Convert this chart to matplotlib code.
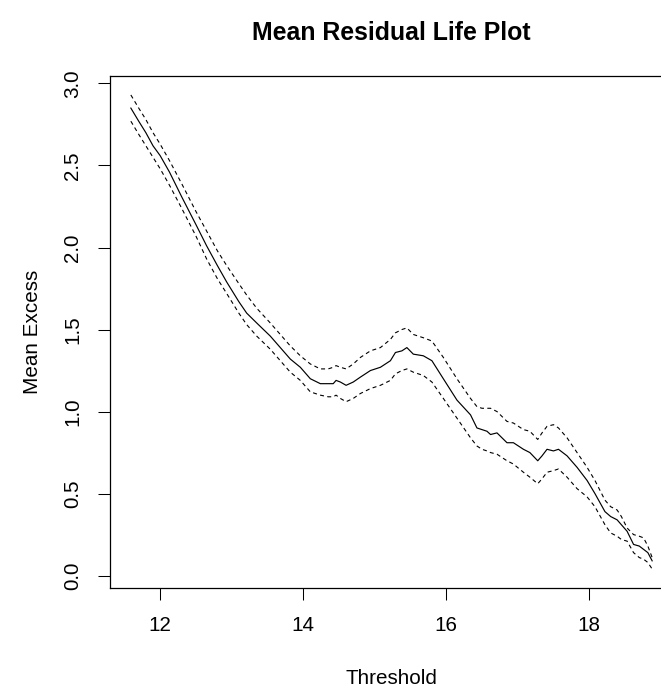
import numpy as np
import matplotlib
matplotlib.use("Agg")
import matplotlib.pyplot as plt

# Threshold grid and mean excess with its confidence band
threshold = [11.59, 11.70, 11.80, 11.90, 12.00, 12.13, 12.30, 12.50, 12.65, 12.80,
             12.93, 13.10, 13.21, 13.35, 13.54, 13.70, 13.82, 13.96, 14.10, 14.24,
             14.35, 14.42, 14.46, 14.52, 14.60, 14.70, 14.80, 14.94, 15.08, 15.22,
             15.29, 15.38, 15.45, 15.54, 15.68, 15.80, 15.96, 16.15, 16.34, 16.43,
             16.50, 16.57, 16.62, 16.71, 16.85, 16.94, 17.08, 17.17, 17.28, 17.34,
             17.41, 17.50, 17.57, 17.69, 17.83, 17.97, 18.08, 18.22, 18.30, 18.39,
             18.45, 18.53, 18.62, 18.70, 18.76, 18.82, 18.88]
mean_excess = [2.85, 2.77, 2.70, 2.62, 2.56, 2.46, 2.31, 2.14, 2.01, 1.89,
               1.79, 1.67, 1.60, 1.54, 1.46, 1.38, 1.32, 1.27, 1.20, 1.17,
               1.17, 1.17, 1.19, 1.18, 1.16, 1.18, 1.21, 1.25, 1.27, 1.31,
               1.36, 1.37, 1.39, 1.35, 1.34, 1.31, 1.20, 1.07, 0.98, 0.90,
               0.89, 0.88, 0.86, 0.87, 0.81, 0.81, 0.77, 0.75, 0.70, 0.73,
               0.77, 0.76, 0.77, 0.73, 0.66, 0.58, 0.50, 0.39, 0.36, 0.34,
               0.31, 0.27, 0.19, 0.18, 0.16, 0.14, 0.09]
upper = [2.93, 2.85, 2.78, 2.70, 2.63, 2.53, 2.39, 2.22, 2.10, 1.98,
         1.89, 1.78, 1.71, 1.63, 1.54, 1.46, 1.40, 1.34, 1.29, 1.26,
         1.26, 1.27, 1.28, 1.27, 1.26, 1.29, 1.33, 1.37, 1.39, 1.44,
         1.48, 1.50, 1.51, 1.47, 1.45, 1.43, 1.33, 1.20, 1.08, 1.03,
         1.02, 1.02, 1.02, 1.00, 0.94, 0.93, 0.89, 0.88, 0.83, 0.87,
         0.91, 0.92, 0.90, 0.84, 0.75, 0.66, 0.58, 0.46, 0.42, 0.40,
         0.36, 0.29, 0.25, 0.24, 0.23, 0.18, 0.11]
lower = [2.77, 2.69, 2.62, 2.55, 2.48, 2.38, 2.24, 2.07, 1.93, 1.81,
         1.72, 1.60, 1.53, 1.46, 1.38, 1.30, 1.24, 1.19, 1.12, 1.10,
         1.09, 1.09, 1.10, 1.08, 1.06, 1.08, 1.11, 1.14, 1.16, 1.19,
         1.23, 1.25, 1.26, 1.24, 1.22, 1.18, 1.08, 0.96, 0.84, 0.79,
         0.77, 0.76, 0.75, 0.74, 0.70, 0.68, 0.63, 0.60, 0.56, 0.59,
         0.63, 0.64, 0.65, 0.60, 0.53, 0.48, 0.42, 0.31, 0.26, 0.24,
         0.22, 0.21, 0.14, 0.11, 0.10, 0.08, 0.04]

x_ticks = [12, 14, 16, 18]
y_ticks = [0.0, 0.5, 1.0, 1.5, 2.0, 2.5, 3.0]

plt.rcParams['font.family'] = ['Liberation Sans', 'DejaVu Sans']

W, H = 661, 689
fig = plt.figure(figsize=(W / 100, H / 100), dpi=100)
# plot region in pixels (right edge runs just past the image, as in the original)
left, right, top, bottom = 110, 673, 76, 588
ax = fig.add_axes([left / W, 1 - bottom / H, (right - left) / W, (bottom - top) / H])

dash = (0, (3.6, 3.0))
ax.plot(threshold, mean_excess, color="black", lw=0.85)
ax.plot(threshold, upper, color="black", lw=0.8, linestyle=dash)
ax.plot(threshold, lower, color="black", lw=0.8, linestyle=dash)

# R-style 4% axis extension
def r_lim(lo, hi):
    d = 0.04 * (hi - lo)
    return lo - d, hi + d

ax.set_xlim(*r_lim(min(threshold), max(threshold)))
ax.set_ylim(*r_lim(min(lower), max(upper)))

ax.set_xticks(x_ticks)
ax.set_xticklabels([str(t) for t in x_ticks])
ax.set_yticks(y_ticks)
ax.set_yticklabels([f"{t:.1f}" for t in y_ticks], rotation=90, va="center")
ax.tick_params(direction="out", length=8.6, width=0.75, labelsize=14.9, colors="black")
ax.tick_params(axis="x", pad=11.5)
ax.tick_params(axis="y", pad=11.5)
for sp in ax.spines.values():
    sp.set_linewidth(0.9)

cx = (left + right) / 2 / W
fig.text(cx, 1 - 33 / H, "Mean Residual Life Plot", ha="center", va="center",
         fontsize=17.9, fontweight="bold")
fig.text(cx, 1 - 678 / H, "Threshold", ha="center", va="center", fontsize=14.9)
fig.text(33 / W, 1 - (top + bottom) / 2 / H, "Mean Excess", ha="center", va="center",
         rotation=90, fontsize=14.9)

fig.savefig("out.png", dpi=100)
